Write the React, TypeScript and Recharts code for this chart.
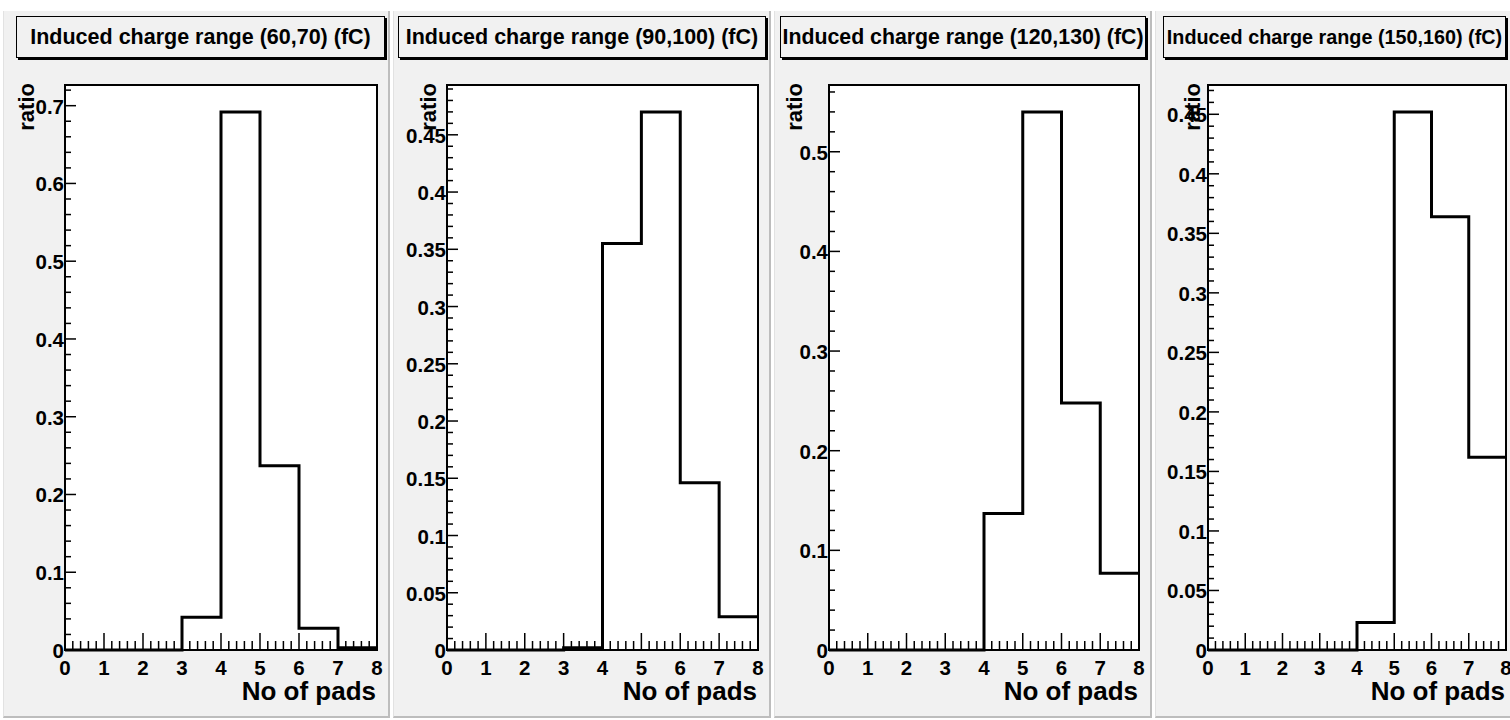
import React from "react";
import {
  ComposedChart,
  Line,
  XAxis,
  YAxis,
  CartesianGrid,
  ReferenceArea,
} from "recharts";

// bin edges along "No of pads"
const binEdges = [0, 1, 2, 3, 4, 5, 6, 7, 8];

// ratio per bin, one array per induced charge range
const ratio60to70 = [0, 0, 0, 0.042, 0.692, 0.237, 0.028, 0.003];
const ratio90to100 = [0, 0, 0, 0.002, 0.355, 0.47, 0.146, 0.029];
const ratio120to130 = [0, 0, 0, 0, 0.137, 0.54, 0.248, 0.077];
const ratio150to160 = [0, 0, 0, 0, 0.023, 0.452, 0.364, 0.162];

const panelTitles = [
  "Induced charge range (60,70) (fC)",
  "Induced charge range (90,100) (fC)",
  "Induced charge range (120,130) (fC)",
  "Induced charge range (150,160) (fC)",
];
const yMajorSteps = [0.1, 0.05, 0.1, 0.05];
const yMinorSteps = [0.02, 0.01, 0.02, 0.01];

const FONT = '"Liberation Sans", Arial, Helvetica, sans-serif';
const FRAME_TOP = 85;
const FRAME_BOTTOM = 650;
const Y_AXIS_W = 70;
const M_TOP = 10;
const M_RIGHT = 10;
const CHART_TOP = FRAME_TOP - M_TOP;
const CHART_H = 720 - CHART_TOP;
const X_AXIS_H = CHART_H - M_TOP - (FRAME_BOTTOM - FRAME_TOP);

// page geometry of each pad
const pads = [
  { padL: 3, padR: 390, titleL: 16, titleR: 387, titleFont: 21.5, frameL: 65, frameR: 377, ratioOff: 31 },
  { padL: 393, padR: 771, titleL: 398, titleR: 768, titleFont: 21.5, frameL: 447, frameR: 758, ratioOff: 11 },
  { padL: 774, padR: 1152, titleL: 780, titleR: 1148, titleFont: 21.3, frameL: 829, frameR: 1139, ratioOff: 27 },
  { padL: 1155, padR: 1512, titleL: 1163, titleR: 1508, titleFont: 19.8, frameL: 1208, frameR: 1506, ratioOff: 8 },
];

const fmt = (v: number) => String(Number(v.toFixed(3)));

const isOnStep = (v: number, step: number) =>
  Math.abs(v / step - Math.round(v / step)) < 1e-6;

function makeTicks(step: number, max: number) {
  const out: number[] = [];
  for (let i = 0; i * step <= max + 1e-9; i++) out.push(Number((i * step).toFixed(4)));
  return out;
}

const xTicks = makeTicks(0.2, 8);

const renderXTick = (props: any) => {
  const { x, y, payload } = props;
  const major = isOnStep(payload.value, 1);
  return (
    <g>
      <line x1={x} x2={x} y1={y} y2={y - (major ? 17 : 9)} stroke="#000" strokeWidth={1.5} />
      {major && (
        <text x={x} y={y + 25} textAnchor="middle" fontFamily={FONT} fontWeight="bold" fontSize={20.5} fill="#000">
          {fmt(payload.value)}
        </text>
      )}
    </g>
  );
};

const makeYTick = (step: number) => (props: any) => {
  const { x, y, payload } = props;
  const major = isOnStep(payload.value, step);
  return (
    <g>
      <line x1={x} x2={x + (major ? 11 : 6)} y1={y} y2={y} stroke="#000" strokeWidth={1.5} />
      {major && (
        <text x={x - 1} y={y + 8} textAnchor="end" fontFamily={FONT} fontWeight="bold" fontSize={20.5} fill="#000">
          {fmt(payload.value)}
        </text>
      )}
    </g>
  );
};

function Panel({ idx, values }: { idx: number; values: number[] }) {
  const p = pads[idx];
  const yMax = Math.max(...values) * 1.05;
  const rows = binEdges.map((x, i) => ({ x, ratio: values[Math.min(i, values.length - 1)] }));
  const yTicks = makeTicks(yMinorSteps[idx], yMax);
  const chartW = p.frameR - p.frameL + Y_AXIS_W + M_RIGHT;

  return (
    <>
      <div
        style={{
          position: "absolute",
          left: p.padL,
          top: 11,
          width: p.padR - p.padL,
          height: 707,
          background: "#f1f1f1",
          borderRight: "2px solid #bdbdbd",
          borderBottom: "2px solid #bdbdbd",
          borderLeft: "1px solid #e2e2e2",
          boxSizing: "border-box",
        }}
      />
      <div
        style={{
          position: "absolute",
          left: p.titleL,
          top: 16,
          width: p.titleR - p.titleL - 2,
          height: 42,
          background: "#f1f1f1",
          border: "1px solid #000",
          boxShadow: "2px 2px 0 #000",
          boxSizing: "border-box",
          display: "flex",
          alignItems: "center",
          justifyContent: "center",
          fontFamily: FONT,
          fontWeight: "bold",
          fontSize: p.titleFont,
          color: "#000",
          whiteSpace: "nowrap",
        }}
      >
        {panelTitles[idx]}
      </div>
      <div style={{ position: "absolute", left: p.frameL - Y_AXIS_W, top: CHART_TOP }}>
        <ComposedChart
          width={chartW}
          height={CHART_H}
          data={rows}
          margin={{ top: M_TOP, right: M_RIGHT, left: 0, bottom: 0 }}
        >
          <CartesianGrid horizontal={false} vertical={false} fill="#ffffff" />
          <XAxis
            dataKey="x"
            type="number"
            domain={[0, 8]}
            ticks={xTicks}
            interval={0}
            tickSize={0}
            tickMargin={0}
            height={X_AXIS_H}
            axisLine={{ stroke: "#000", strokeWidth: 2 }}
            tick={renderXTick}
            label={(lp: any) => {
              const vb = lp.viewBox || {};
              return (
                <text x={vb.x + vb.width - 1} y={vb.y + 50} textAnchor="end" fontFamily={FONT} fontWeight="bold" fontSize={26} fill="#000">
                  No of pads
                </text>
              );
            }}
          />
          <YAxis
            type="number"
            domain={[0, yMax]}
            ticks={yTicks}
            interval={0}
            width={Y_AXIS_W}
            tickSize={0}
            tickMargin={0}
            axisLine={{ stroke: "#000", strokeWidth: 2 }}
            tick={makeYTick(yMajorSteps[idx])}
            label={(lp: any) => {
              const vb = lp.viewBox || {};
              const cx = vb.x + vb.width - p.ratioOff;
              const cy = vb.y - 2;
              return (
                <text x={cx} y={cy} transform={`rotate(-90 ${cx} ${cy})`} textAnchor="end" fontFamily={FONT} fontWeight="bold" fontSize={22} fill="#000">
                  ratio
                </text>
              );
            }}
          />
          <ReferenceArea x1={0} x2={8} y1={0} y2={yMax} fill="none" stroke="#000" strokeWidth={2} ifOverflow="visible" />
          <Line
            type="stepAfter"
            dataKey="ratio"
            stroke="#000"
            strokeWidth={3}
            dot={false}
            activeDot={false}
            isAnimationActive={false}
          />
        </ComposedChart>
      </div>
    </>
  );
}

export default function App() {
  const series = [ratio60to70, ratio90to100, ratio120to130, ratio150to160];
  return (
    <div
      style={{
        position: "fixed",
        left: 0,
        top: 0,
        width: 1510,
        height: 720,
        overflow: "hidden",
        background: "#ffffff",
      }}
    >
      {series.map((values, i) => (
        <Panel key={i} idx={i} values={values} />
      ))}
    </div>
  );
}
